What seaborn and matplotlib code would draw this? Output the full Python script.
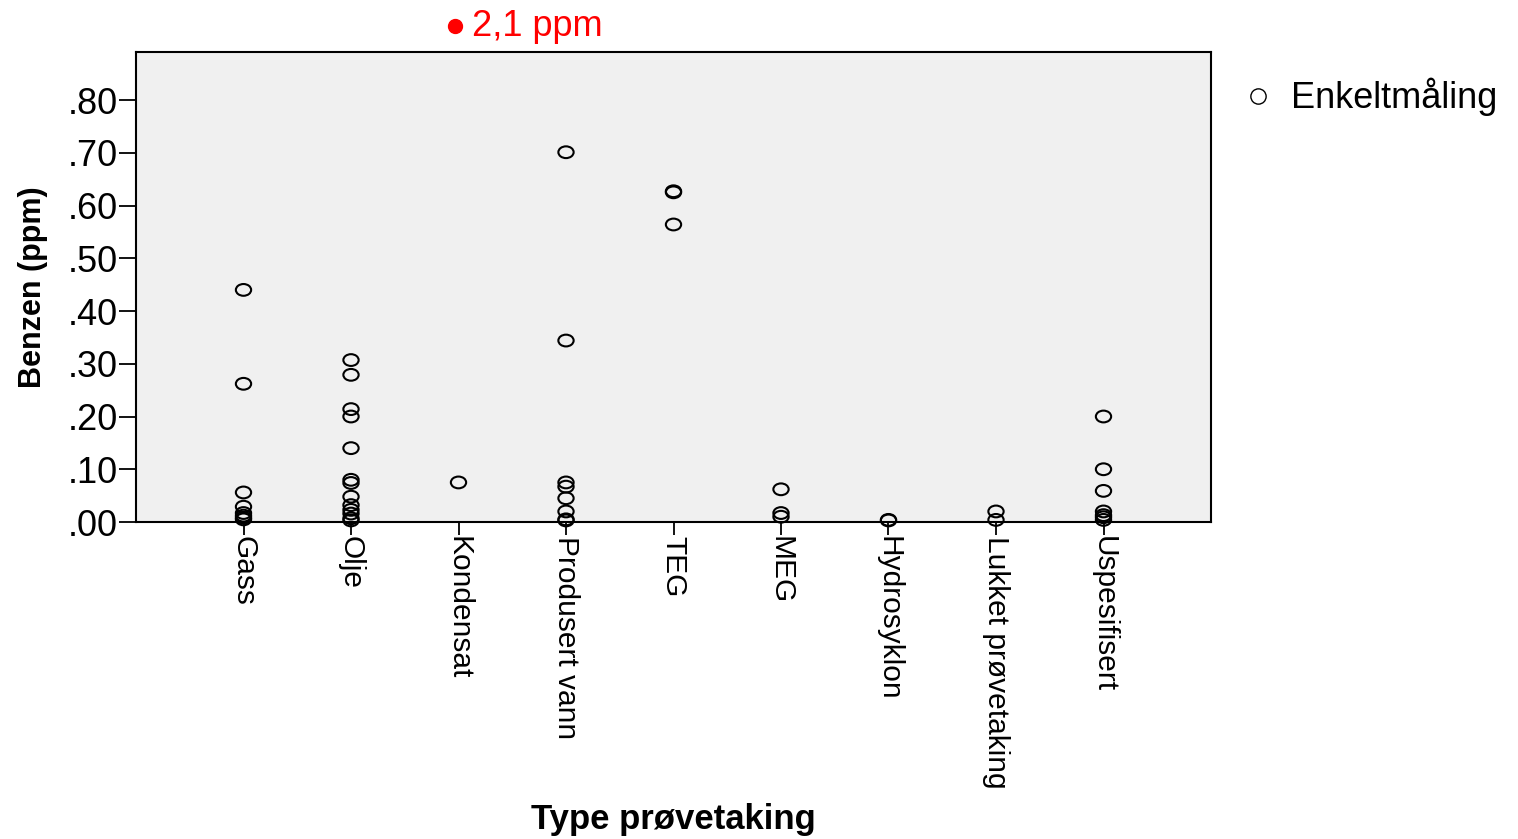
import numpy as np
import pandas as pd
import matplotlib
matplotlib.use("Agg")
import matplotlib.pyplot as plt
import matplotlib.transforms as mtransforms
from matplotlib.path import Path
from matplotlib.lines import Line2D
from matplotlib.ticker import FuncFormatter, MultipleLocator
import seaborn as sns

categories = ["Gass", "Olje", "Kondensat", "Produsert vann", "TEG", "MEG",
              "Hydrosyklon", "Lukket prøvetaking", "Uspesifisert"]

gass = [0.44, 0.262, 0.056, 0.029, 0.017, 0.012, 0.008, 0.005]
olje = [0.307, 0.279, 0.214, 0.200, 0.140, 0.080, 0.074, 0.048, 0.032,
        0.023, 0.016, 0.007, 0.003]
kondensat = [0.075]
produsert_vann = [0.701, 0.344, 0.075, 0.067, 0.045, 0.020, 0.005, 0.003]
teg = [0.627, 0.625, 0.564]
meg = [0.062, 0.017, 0.010]
hydrosyklon = [0.004, 0.003]
lukket = [0.020, 0.004]
uspesifisert = [0.200, 0.100, 0.059, 0.020, 0.013, 0.009, 0.004]

outlier_category = "Kondensat"
outlier_label = "2,1 ppm"

series = [gass, olje, kondensat, produsert_vann, teg, meg, hydrosyklon,
          lukket, uspesifisert]
df = pd.DataFrame({
    "Type prøvetaking": [c for c, vals in zip(categories, series) for _ in vals],
    "Benzen (ppm)": [v for vals in series for v in vals],
})

sns.set_theme(style="white")
plt.rcParams["font.family"] = ["Liberation Sans", "DejaVu Sans"]
plt.rcParams["text.color"] = "black"
plt.rcParams["axes.labelcolor"] = "black"

fig = plt.figure(figsize=(15.18, 8.39), dpi=100)
ax = fig.add_axes([136 / 1518, 1 - 522 / 839, (1211 - 136) / 1518, (522 - 52) / 839])
ax.set_facecolor("#f0f0f0")

ellipse = Path.unit_circle().transformed(mtransforms.Affine2D().scale(1.3, 1.0))

sns.stripplot(data=df, x="Type prøvetaking", y="Benzen (ppm)", order=categories,
              jitter=False, marker=ellipse, size=11, linewidth=1.5,
              color="black", ax=ax, clip_on=False, zorder=5)
for coll in ax.collections:
    coll.set_facecolor("none")
    coll.set_edgecolor("black")
    coll.set_linewidth(1.5)
    coll.set_clip_on(False)

ax.set_xlim(-1, 9)
ax.set_ylim(0, 0.891)
ax.yaxis.set_major_locator(MultipleLocator(0.1))
ax.yaxis.set_major_formatter(FuncFormatter(lambda v, p: f"{v:.2f}".lstrip("0") if v >= 0 else f"{v:.2f}"))

for s in ax.spines.values():
    s.set_color("black")
    s.set_linewidth(1.5)

ax.tick_params(axis="y", which="major", left=True, length=12, width=1.3,
               pad=1, labelsize=26, color="black", labelcolor="black")
ax.tick_params(axis="x", which="major", bottom=True, length=9, width=1.3,
               pad=1, labelsize=21.5, color="black", labelcolor="black")
for lab in ax.get_xticklabels():
    lab.set_rotation(270)
    lab.set_va("top")
    lab.set_ha("center")

ax.set_xlabel("Type prøvetaking", fontsize=25, fontweight="bold", color="black",
              va="center")
ax.xaxis.set_label_coords(0.5, (522 - 820) / 470)
ax.set_ylabel("Benzen (ppm)", fontsize=22, fontweight="bold", labelpad=14,
              color="black")

# outlier annotation above the plot
trans = mtransforms.blended_transform_factory(ax.transData, ax.transAxes)
xi = categories.index(outlier_category)
ax.plot([xi - 0.03], [1.055], marker="o", color="red", markersize=10,
        transform=trans, clip_on=False)
ax.text(xi + 0.13, 1.055, outlier_label, color="red", fontsize=26,
        transform=trans, va="center", ha="left", clip_on=False)

handle = Line2D([], [], linestyle="none", marker="o", markersize=11,
                markerfacecolor="none", markeredgecolor="black", markeredgewidth=1.0)
fig.legend([handle], ["Enkeltmåling"], loc="center left",
           bbox_to_anchor=(1240 / 1518, 1 - 97 / 839), frameon=False,
           fontsize=26, handletextpad=0.4, handlelength=1.0,
           borderpad=0, borderaxespad=0, labelcolor="black")

fig.savefig("out.png", dpi=100)
